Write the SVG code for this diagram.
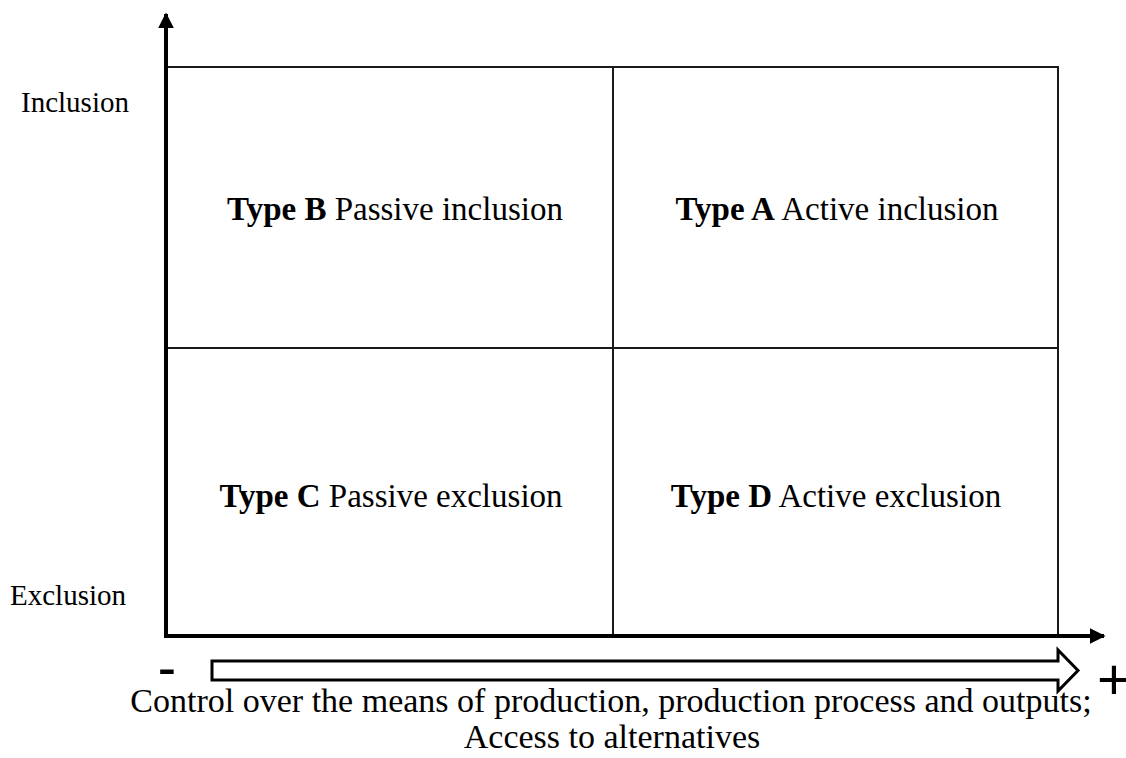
<svg xmlns="http://www.w3.org/2000/svg" width="1126" height="758" viewBox="0 0 1126 758">
<style>
.t{font-family:"Liberation Serif","Times New Roman",serif;fill:#000}
.q{font-size:33px}
.b{font-size:34px}
.ax{font-size:29px}
.g{stroke:#1a1a1a;stroke-width:2;fill:none}
.axis{stroke:#000;stroke-width:4;fill:none}
</style>
<defs>
<marker id="ah" viewBox="0 0 10 10" refX="9" refY="5" markerWidth="4" markerHeight="4" markerUnits="strokeWidth" orient="auto">
<path d="M0,0 L10,5 L0,10 z" fill="#000"/>
</marker>
</defs>
<rect width="1126" height="758" fill="#fff"/>
<g id="grid">
<rect class="g" x="167" y="67" width="891" height="569"/>
<line class="g" x1="613" y1="67" x2="613" y2="636"/>
<line class="g" x1="167" y1="348" x2="1058" y2="348"/>
</g>
<g id="connectors">
<line class="axis" x1="166" y1="638" x2="166" y2="14" marker-end="url(#ah)"/>
<line class="axis" x1="164" y1="636" x2="1104" y2="636" marker-end="url(#ah)"/>
<path d="M212,661 L1058,661 L1058,650 L1078,670.5 L1058,691 L1058,680 L212,680 Z" fill="#fff" stroke="#000" stroke-width="3" stroke-linejoin="miter"/>
</g>
<g id="quadB"><text class="t q" x="395" y="220" text-anchor="middle"><tspan font-weight="bold">Type B</tspan> Passive inclusion</text></g>
<g id="quadA"><text class="t q" x="837" y="220" text-anchor="middle"><tspan font-weight="bold">Type A</tspan> Active inclusion</text></g>
<g id="quadC"><text class="t q" x="391" y="507" text-anchor="middle"><tspan font-weight="bold">Type C</tspan> Passive exclusion</text></g>
<g id="quadD"><text class="t q" x="836" y="507" text-anchor="middle"><tspan font-weight="bold">Type D</tspan> Active exclusion</text></g>
<g id="yLabels">
<text class="t ax" x="75" y="112" text-anchor="middle">Inclusion</text>
<text class="t ax" x="68" y="605" text-anchor="middle">Exclusion</text>
</g>
<g id="xLabels">
<text class="t" x="167" y="684" font-size="52" font-weight="bold" text-anchor="middle">-</text>
<text x="1114" y="699" font-size="58" text-anchor="middle" font-family="Liberation Sans, Arial, sans-serif">+</text>
<text class="t b" x="611" y="712" text-anchor="middle">Control over the means of production, production process and outputs;</text>
<text class="t b" x="612" y="748" text-anchor="middle">Access to alternatives</text>
</g>
</svg>
